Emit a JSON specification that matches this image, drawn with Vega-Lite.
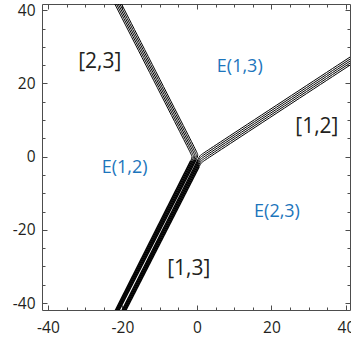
{
  "$schema": "https://vega.github.io/schema/vega-lite/v6.json",
  "width": 308,
  "height": 306,
  "autosize": "none",
  "padding": {"left": 42, "top": 4, "right": 1, "bottom": 31},
  "config": {
    "view": {"stroke": null},
    "axis": {
      "grid": false,
      "title": null,
      "domainColor": "#4d4d4d",
      "domainWidth": 1,
      "tickColor": "#4d4d4d",
      "tickWidth": 1,
      "labelFont": "Open Sans",
      "labelFontSize": 15.5,
      "labelColor": "#231f20",
      "labelFlush": false,
      "labelPadding": 12
    }
  },
  "datasets": {
    "curves": [
      {"c": "A0", "part": "arm", "o": 0, "x": -23.7, "y": 45},
      {"c": "A0", "part": "arm", "o": 1, "x": -1.69, "y": 0.97},
      {"c": "A0", "part": "arm", "o": 2, "x": -1.15, "y": -0.1},
      {"c": "A0", "part": "arm", "o": 3, "x": -1.69, "y": -1.17},
      {"c": "A0", "part": "leg", "o": 3, "x": -1.69, "y": -1.17},
      {"c": "A0", "part": "leg", "o": 4, "x": -23.4, "y": -45},
      {"c": "A1", "part": "arm", "o": 0, "x": -23.25, "y": 45},
      {"c": "A1", "part": "arm", "o": 1, "x": -1.305, "y": 1.1},
      {"c": "A1", "part": "arm", "o": 2, "x": -0.765, "y": 0.03},
      {"c": "A1", "part": "arm", "o": 3, "x": -1.305, "y": -1.04},
      {"c": "A1", "part": "leg", "o": 3, "x": -1.305, "y": -1.04},
      {"c": "A1", "part": "leg", "o": 4, "x": -23.15, "y": -45},
      {"c": "A2", "part": "arm", "o": 0, "x": -22.8, "y": 45},
      {"c": "A2", "part": "arm", "o": 1, "x": -0.915, "y": 1.22},
      {"c": "A2", "part": "arm", "o": 2, "x": -0.375, "y": 0.15},
      {"c": "A2", "part": "arm", "o": 3, "x": -0.915, "y": -0.92},
      {"c": "A2", "part": "leg", "o": 3, "x": -0.915, "y": -0.92},
      {"c": "A2", "part": "leg", "o": 4, "x": -22.9, "y": -45},
      {"c": "A3", "part": "arm", "o": 0, "x": -22.35, "y": 45},
      {"c": "A3", "part": "arm", "o": 1, "x": -0.525, "y": 1.34},
      {"c": "A3", "part": "arm", "o": 2, "x": 0.015, "y": 0.27},
      {"c": "A3", "part": "arm", "o": 3, "x": -0.525, "y": -0.8},
      {"c": "A3", "part": "leg", "o": 3, "x": -0.525, "y": -0.8},
      {"c": "A3", "part": "leg", "o": 4, "x": -22.65, "y": -45},
      {"c": "A4", "part": "arm", "o": 0, "x": -21.9, "y": 45},
      {"c": "A4", "part": "arm", "o": 1, "x": -0.14, "y": 1.47},
      {"c": "A4", "part": "arm", "o": 2, "x": 0.4, "y": 0.4},
      {"c": "A4", "part": "arm", "o": 3, "x": -0.14, "y": -0.67},
      {"c": "A4", "part": "leg", "o": 3, "x": -0.14, "y": -0.67},
      {"c": "A4", "part": "leg", "o": 4, "x": -22.4, "y": -45},
      {"c": "B0", "part": "arm", "o": 0, "x": 45, "y": 29.8},
      {"c": "B0", "part": "arm", "o": 1, "x": 1.75, "y": 0.97},
      {"c": "B0", "part": "arm", "o": 2, "x": 0.75, "y": 0.3},
      {"c": "B0", "part": "arm", "o": 3, "x": 0.31, "y": -0.77},
      {"c": "B0", "part": "leg", "o": 3, "x": 0.31, "y": -0.77},
      {"c": "B0", "part": "leg", "o": 4, "x": -21.6, "y": -45},
      {"c": "B1", "part": "arm", "o": 0, "x": 45, "y": 29.25},
      {"c": "B1", "part": "arm", "o": 1, "x": 1.82, "y": 0.47},
      {"c": "B1", "part": "arm", "o": 2, "x": 0.82, "y": -0.2},
      {"c": "B1", "part": "arm", "o": 3, "x": 0.38, "y": -1.27},
      {"c": "B1", "part": "leg", "o": 3, "x": 0.38, "y": -1.27},
      {"c": "B1", "part": "leg", "o": 4, "x": -21.35, "y": -45},
      {"c": "B2", "part": "arm", "o": 0, "x": 45, "y": 28.7},
      {"c": "B2", "part": "arm", "o": 1, "x": 1.9, "y": -0.03},
      {"c": "B2", "part": "arm", "o": 2, "x": 0.9, "y": -0.7},
      {"c": "B2", "part": "arm", "o": 3, "x": 0.46, "y": -1.77},
      {"c": "B2", "part": "leg", "o": 3, "x": 0.46, "y": -1.77},
      {"c": "B2", "part": "leg", "o": 4, "x": -21.1, "y": -45},
      {"c": "B3", "part": "arm", "o": 0, "x": 45, "y": 28.15},
      {"c": "B3", "part": "arm", "o": 1, "x": 1.98, "y": -0.53},
      {"c": "B3", "part": "arm", "o": 2, "x": 0.98, "y": -1.2},
      {"c": "B3", "part": "arm", "o": 3, "x": 0.54, "y": -2.27},
      {"c": "B3", "part": "leg", "o": 3, "x": 0.54, "y": -2.27},
      {"c": "B3", "part": "leg", "o": 4, "x": -20.85, "y": -45},
      {"c": "B4", "part": "arm", "o": 0, "x": 45, "y": 27.6},
      {"c": "B4", "part": "arm", "o": 1, "x": 2.05, "y": -1.03},
      {"c": "B4", "part": "arm", "o": 2, "x": 1.05, "y": -1.7},
      {"c": "B4", "part": "arm", "o": 3, "x": 0.61, "y": -2.77},
      {"c": "B4", "part": "leg", "o": 3, "x": 0.61, "y": -2.77},
      {"c": "B4", "part": "leg", "o": 4, "x": -20.6, "y": -45}
    ],
    "labels": [
      {"t": "[2,3]", "kind": "edge", "x": -26.1, "y": 25.8},
      {"t": "[1,2]", "kind": "edge", "x": 32.2, "y": 8.2},
      {"t": "[1,3]", "kind": "edge", "x": -2.2, "y": -30.8},
      {"t": "E(1,3)", "kind": "region", "x": 11.5, "y": 24.4},
      {"t": "E(1,2)", "kind": "region", "x": -19.4, "y": -3.0},
      {"t": "E(2,3)", "kind": "region", "x": 21.5, "y": -15.2}
    ]
  },
  "layer": [
    {
      "data": {"name": "curves"},
      "mark": {"type": "line", "interpolate": "basis", "clip": true, "color": "#000000"},
      "encoding": {
        "x": {
          "field": "x", "type": "quantitative",
          "scale": {"domain": [-41.6, 41.1], "nice": false, "zero": false},
          "axis": {
            "orient": "bottom",
            "labelPadding": 15,
            "values": [-40, -35, -30, -25, -20, -15, -10, -5, 0, 5, 10, 15, 20, 25, 30, 35, 40],
            "labelExpr": "datum.value % 20 === 0 ? '' + datum.value : ''",
            "tickSize": {"condition": {"test": "datum.value % 20 === 0", "value": -5}, "value": -3}
          }
        },
        "y": {
          "field": "y", "type": "quantitative",
          "scale": {"domain": [-41.9, 41.7], "nice": false, "zero": false},
          "axis": {
            "orient": "left",
            "values": [-40, -35, -30, -25, -20, -15, -10, -5, 0, 5, 10, 15, 20, 25, 30, 35, 40],
            "labelExpr": "datum.value % 20 === 0 ? '' + datum.value : ''",
            "tickSize": {"condition": {"test": "datum.value % 20 === 0", "value": -5}, "value": -3}
          }
        },
        "strokeWidth": {
          "field": "part", "type": "nominal",
          "scale": {"domain": ["arm", "leg"], "range": [1, 1.4]},
          "legend": null
        },
        "detail": [{"field": "c"}, {"field": "part"}],
        "order": {"field": "o"}
      }
    },
    {
      "data": {"name": "labels"},
      "transform": [{"filter": "datum.kind === 'edge'"}],
      "mark": {"type": "text", "font": "Open Sans", "fontSize": 21, "color": "#231f20"},
      "encoding": {
        "x": {
          "field": "x", "type": "quantitative",
          "axis": {
            "orient": "top", "labels": false,
            "values": [-40, -35, -30, -25, -20, -15, -10, -5, 0, 5, 10, 15, 20, 25, 30, 35, 40],
            "tickSize": {"condition": {"test": "datum.value % 20 === 0", "value": -5}, "value": -3}
          }
        },
        "y": {
          "field": "y", "type": "quantitative",
          "axis": {
            "orient": "right", "labels": false,
            "values": [-40, -35, -30, -25, -20, -15, -10, -5, 0, 5, 10, 15, 20, 25, 30, 35, 40],
            "tickSize": {"condition": {"test": "datum.value % 20 === 0", "value": -5}, "value": -3}
          }
        },
        "text": {"field": "t"}
      }
    },
    {
      "data": {"name": "labels"},
      "transform": [{"filter": "datum.kind === 'region'"}],
      "mark": {"type": "text", "font": "Open Sans", "fontSize": 18, "color": "#1c75bc"},
      "encoding": {
        "x": {"field": "x", "type": "quantitative", "axis": null},
        "y": {"field": "y", "type": "quantitative", "axis": null},
        "text": {"field": "t"}
      }
    }
  ],
  "resolve": {"axis": {"x": "independent", "y": "independent"}}
}
